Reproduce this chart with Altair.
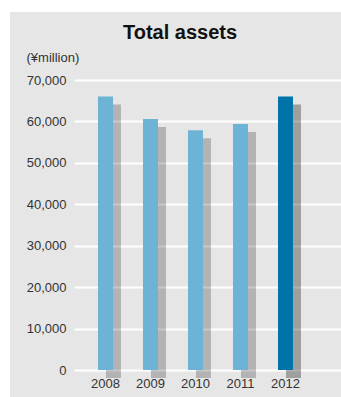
import altair as alt
import pandas as pd

years = ["2008", "2009", "2010", "2011", "2012"]
assets = [66000, 60600, 57900, 59400, 66000]
y_ticks = [0, 10000, 20000, 30000, 40000, 50000, 60000, 70000]

df = pd.DataFrame({"year": years, "assets": assets})

FONT = "Liberation Sans"
W, H = 267, 290

xscale = alt.Scale(domain=years, paddingInner=0, paddingOuter=0.4667, align=0.214)
yscale = alt.Scale(domain=[0, 70000], nice=False)

x_enc = alt.X("year:N", scale=xscale, sort=years,
              axis=alt.Axis(title=None, labelAngle=0, ticks=False, domain=False,
                            labelPadding=7, labelFontSize=13, labelFont=FONT,
                            labelColor="#333333", grid=False))

y_axis = alt.Axis(values=y_ticks, format=",.0f", title="(¥million)",
                  titleAngle=0, titleX=-48, titleY=-19, titleAlign="left",
                  titleBaseline="alphabetic", titleFontSize=13, titleFont=FONT,
                  titleFontWeight="normal", titleColor="#333333",
                  labelFontSize=13, labelFont=FONT, labelColor="#333333",
                  labelPadding=8, ticks=False, domain=False,
                  grid=True, gridColor="white", gridWidth=2, gridOpacity=1)

y_enc = alt.Y("assets:Q", scale=yscale, axis=y_axis)

base = alt.Chart(df)

shadow = base.mark_bar(size=15, xOffset=8, yOffset=8, y2Offset=0, color="black").encode(
    x=x_enc,
    y=y_enc,
    opacity=alt.condition(alt.datum.year == "2012", alt.value(0.31), alt.value(0.22)),
)

bars = base.mark_bar(size=15).encode(
    x=x_enc,
    y=y_enc,
    color=alt.condition(alt.datum.year == "2012", alt.value("#0074a9"), alt.value("#6db3d6")),
)

title = alt.Chart(pd.DataFrame({"t": ["Total assets"]})).mark_text(
    font=FONT, fontSize=20, fontWeight="bold", color="#111111",
    align="center", baseline="alphabetic"
).encode(x=alt.value(106), y=alt.value(-41), text="t:N")

strip_left = alt.Chart(pd.DataFrame({"a": [0]})).mark_rect(color="white").encode(
    x=alt.value(-74), x2=alt.value(-64), y=alt.value(-80), y2=alt.value(H + 27))
strip_top = alt.Chart(pd.DataFrame({"a": [0]})).mark_rect(color="white").encode(
    x=alt.value(-74), x2=alt.value(W), y=alt.value(-80), y2=alt.value(-68))

chart = alt.layer(shadow, bars, title, strip_left, strip_top).properties(
    width=W, height=H,
    background="#e6e6e6",
    padding={"left": 74, "top": 80, "right": 0, "bottom": 27},
    autosize=alt.AutoSizeParams(type="none"),
).configure_view(stroke=None)

chart.save("out.html", embed_options={"renderer": "svg", "actions": False})
